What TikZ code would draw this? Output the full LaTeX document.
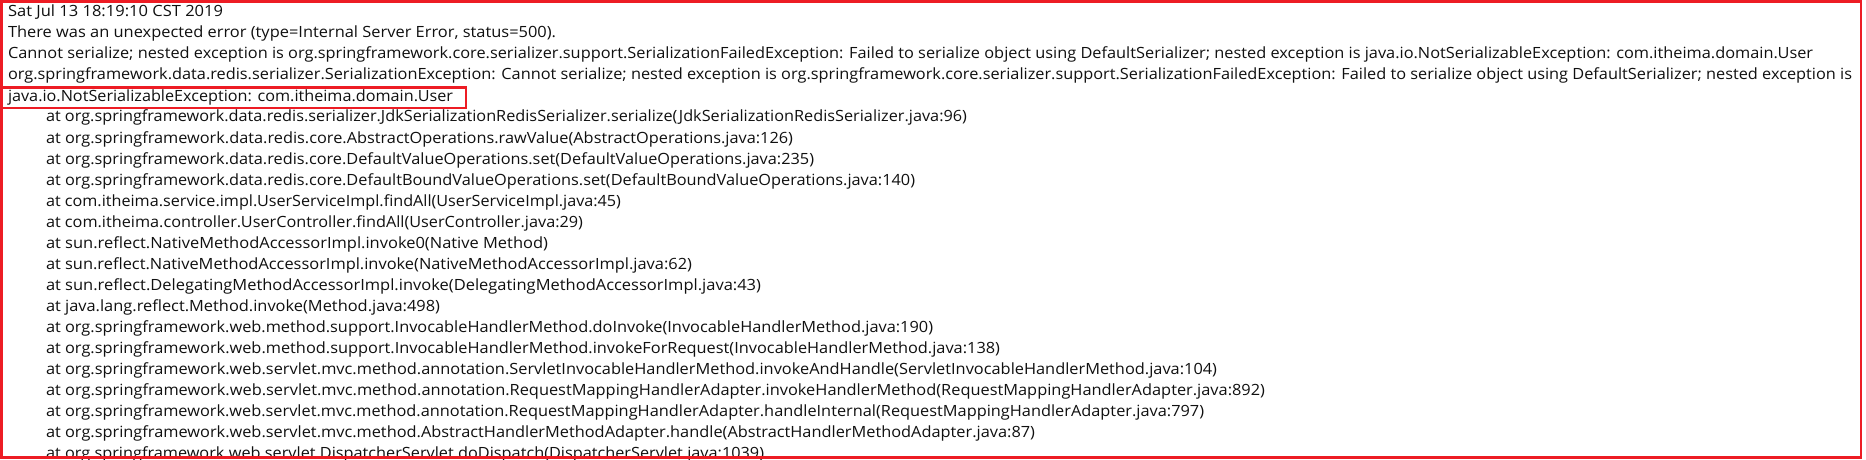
\documentclass[tikz,border=0pt]{standalone}
\usepackage{fontspec}
\setmainfont{Open Sans}
\newlength\pxu
\setlength\pxu{0.75pt}
\newcommand\fitpx[2]{\resizebox{#1\pxu}{\height}{#2}}
\definecolor{errred}{RGB}{237,28,36}
\definecolor{txt}{RGB}{16,16,16}
\tikzset{
  ln/.style={anchor=base west, inner sep=0pt, outer sep=0pt, text=txt, font=\fontsize{11.6pt}{14pt}\selectfont},
  frame/.style={draw=errred, line width=2pt},
}
\begin{document}
\begin{tikzpicture}[x=0.75pt,y=-0.75pt]
\useasboundingbox (0,0) rectangle (1866,460);
\clip (0,0) rectangle (1866,460);
\fill[white] (0,0) rectangle (1866,460);
\node[ln] (l1) at (8,17) {\fitpx{215}{Sat Jul 13 18:19:10 CST 2019}};
\node[ln] (l2) at (8,38) {\fitpx{548}{There was an unexpected error (type=Internal Server Error, status=500).}};
\node[ln] (l3) at (8,59) {\fitpx{1805}{Cannot serialize; nested exception is org.springframework.core.serializer.support.SerializationFailedException: Failed to serialize object using DefaultSerializer; nested exception is java.io.NotSerializableException: com.itheima.domain.User}};
\node[ln] (l4) at (8,80) {\fitpx{1844}{org.springframework.data.redis.serializer.SerializationException: Cannot serialize; nested exception is org.springframework.core.serializer.support.SerializationFailedException: Failed to serialize object using DefaultSerializer; nested exception is}};
\node[ln] (l5) at (8,101) {\fitpx{445}{java.io.NotSerializableException: com.itheima.domain.User}};
\node[ln] (l6) at (46,122) {\fitpx{921}{at org.springframework.data.redis.serializer.JdkSerializationRedisSerializer.serialize(JdkSerializationRedisSerializer.java:96)}};
\node[ln] (l7) at (46,143) {\fitpx{747}{at org.springframework.data.redis.core.AbstractOperations.rawValue(AbstractOperations.java:126)}};
\node[ln] (l8) at (46,164) {\fitpx{768}{at org.springframework.data.redis.core.DefaultValueOperations.set(DefaultValueOperations.java:235)}};
\node[ln] (l9) at (46,185) {\fitpx{869}{at org.springframework.data.redis.core.DefaultBoundValueOperations.set(DefaultBoundValueOperations.java:140)}};
\node[ln] (l10) at (46,206) {\fitpx{575}{at com.itheima.service.impl.UserServiceImpl.findAll(UserServiceImpl.java:45)}};
\node[ln] (l11) at (46,227) {\fitpx{537}{at com.itheima.controller.UserController.findAll(UserController.java:29)}};
\node[ln] (l12) at (46,248) {\fitpx{502}{at sun.reflect.NativeMethodAccessorImpl.invoke0(Native Method)}};
\node[ln] (l13) at (46,269) {\fitpx{646}{at sun.reflect.NativeMethodAccessorImpl.invoke(NativeMethodAccessorImpl.java:62)}};
\node[ln] (l14) at (46,290) {\fitpx{715}{at sun.reflect.DelegatingMethodAccessorImpl.invoke(DelegatingMethodAccessorImpl.java:43)}};
\node[ln] (l15) at (46,311) {\fitpx{394}{at java.lang.reflect.Method.invoke(Method.java:498)}};
\node[ln] (l16) at (46,332) {\fitpx{887}{at org.springframework.web.method.support.InvocableHandlerMethod.doInvoke(InvocableHandlerMethod.java:190)}};
\node[ln] (l17) at (46,353) {\fitpx{954}{at org.springframework.web.method.support.InvocableHandlerMethod.invokeForRequest(InvocableHandlerMethod.java:138)}};
\node[ln] (l18) at (46,374) {\fitpx{1171}{at org.springframework.web.servlet.mvc.method.annotation.ServletInvocableHandlerMethod.invokeAndHandle(ServletInvocableHandlerMethod.java:104)}};
\node[ln] (l19) at (46,395) {\fitpx{1219}{at org.springframework.web.servlet.mvc.method.annotation.RequestMappingHandlerAdapter.invokeHandlerMethod(RequestMappingHandlerAdapter.java:892)}};
\node[ln] (l20) at (46,416) {\fitpx{1158}{at org.springframework.web.servlet.mvc.method.annotation.RequestMappingHandlerAdapter.handleInternal(RequestMappingHandlerAdapter.java:797)}};
\node[ln] (l21) at (46,437) {\fitpx{989}{at org.springframework.web.servlet.mvc.method.AbstractHandlerMethodAdapter.handle(AbstractHandlerMethodAdapter.java:87)}};
\node[ln] (l22) at (46,458) {\fitpx{718}{at org.springframework.web.servlet.DispatcherServlet.doDispatch(DispatcherServlet.java:1039)}};
\draw[frame] (1.3,87.3) rectangle (466,108);
\draw[frame] (1.3,1.3) rectangle (1861,457.7);
\end{tikzpicture}
\end{document}
